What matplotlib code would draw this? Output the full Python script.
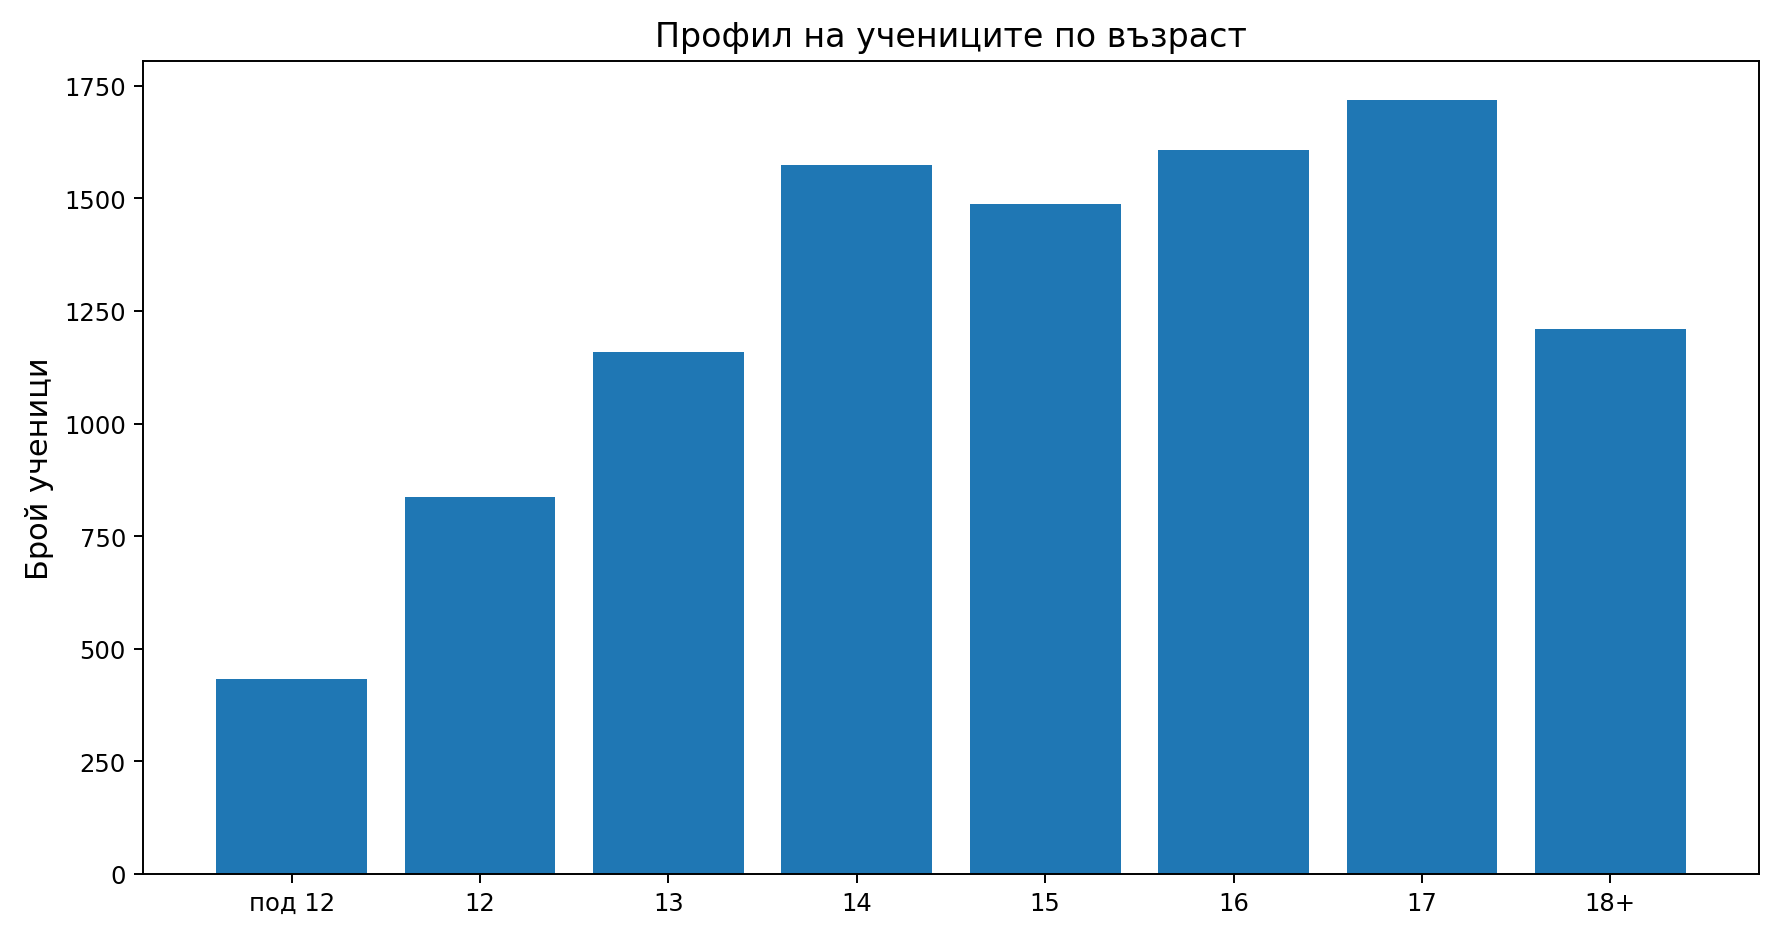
import numpy as np
import matplotlib
matplotlib.use("Agg")
import matplotlib.pyplot as plt

# age groups and student counts
age_groups = ["под 12", "12", "13", "14", "15", "16", "17", "18+"]
student_counts = [434, 837, 1158, 1573, 1487, 1608, 1719, 1209]

DPI = 175
fig = plt.figure(figsize=(1778 / DPI, 935 / DPI), dpi=DPI)
ax = fig.add_axes([143 / 1778, 1 - 875 / 935, (1759 - 143) / 1778, (875 - 62) / 935])

x = np.arange(len(age_groups))
ax.bar(x, student_counts, color="#1f77b4", width=0.8)
ax.set_xticks(x)
ax.set_xticklabels(age_groups)
ax.tick_params(labelsize=10)

ax.set_title("Профил на учениците по възраст", fontsize=13.7)
ax.set_ylabel("Брой ученици", fontsize=12.5)

fig.savefig("out.png", dpi=DPI)
